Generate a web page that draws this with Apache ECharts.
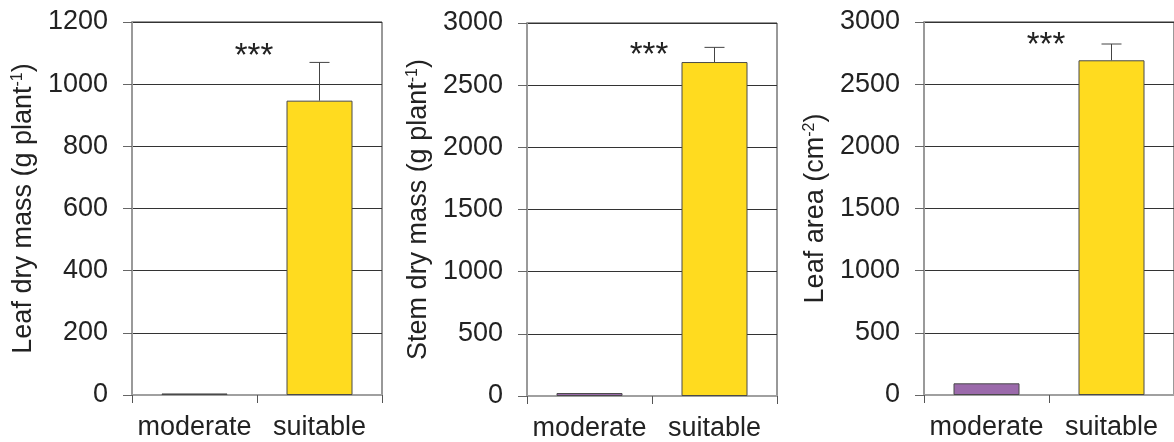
<!DOCTYPE html>
<html>
<head>
<meta charset="utf-8">
<script src="https://cdn.jsdelivr.net/npm/echarts@6/dist/echarts.min.js"></script>
<style>html,body{margin:0;padding:0;background:#fff;}#c{width:1174px;height:442px;}</style>
</head>
<body>
<div id="c"></div>
<script>
// ---- data ----
const categories = ['moderate', 'suitable'];
const leafMass = [5, 947];
const leafMassErr = [0, 123];
const stemMass = [24, 2686];
const stemMassErr = [0, 118];
const leafArea = [94, 2692];
const leafAreaErr = [0, 131];
const yMax = [1200, 3000, 3000];
const yInterval = [200, 500, 500];
const yNames = [
  ['Leaf dry mass (g plant', '-1', ')'],
  ['Stem dry mass (g plant', '-1', ')'],
  ['Leaf area (cm', '-2', ')']
];
const signif = ['***', '***', '***'];

const panels = [
  { values: leafMass, errs: leafMassErr },
  { values: stemMass, errs: stemMassErr },
  { values: leafArea, errs: leafAreaErr }
];

// ---- layout ----
const FONT = 'Liberation Sans, Arial, Helvetica, sans-serif';
const grids = [
  { left: 132, top: 22, width: 250, height: 373 },
  { left: 527, top: 23, width: 250, height: 373 },
  { left: 924, top: 22, width: 250, height: 373 }
];
const starCenterY = [57, 56, 46];
const barColors = ['#9b6aab', '#ffdb1f'];

const option = {
  animation: false,
  backgroundColor: '#fff',
  grid: grids.map(g => Object.assign({ show: true, borderColor: '#333', borderWidth: 1, backgroundColor: 'transparent' }, g)),
  xAxis: grids.map((g, i) => ({
    type: 'category',
    gridIndex: i,
    data: categories,
    boundaryGap: true,
    axisLine: { show: true, lineStyle: { color: '#a0a0a0', width: 2 } },
    axisTick: { show: true, length: 8, lineStyle: { color: '#555', width: 1 } },
    axisLabel: { fontSize: 27, color: '#222', fontFamily: FONT, margin: 19, interval: 0, hideOverlap: false }
  })),
  yAxis: grids.map((g, i) => ({
    type: 'value',
    gridIndex: i,
    min: 0,
    max: yMax[i],
    interval: yInterval[i],
    name: '{n|' + yNames[i][0] + '}{s|' + yNames[i][1] + '}{n|' + yNames[i][2] + '}',
    nameLocation: 'middle',
    nameGap: 95,
    nameRotate: 90,
    nameTextStyle: {
      color: '#222', fontFamily: FONT,
      rich: {
        n: { fontSize: 27, color: '#222', fontFamily: FONT },
        s: { fontSize: 16, color: '#222', fontFamily: FONT, verticalAlign: 'top' }
      }
    },
    axisLine: { show: true, lineStyle: { color: '#9a9a9a', width: 2 } },
    axisTick: { show: true, length: 9, lineStyle: { color: '#666', width: 1 } },
    axisLabel: { fontSize: 27, color: '#222', fontFamily: FONT, margin: 24, formatter: v => String(v) },
    splitLine: { show: true, lineStyle: { color: '#333', width: 1 } }
  })),
  graphic: grids.map((g, i) => ({
    type: 'text',
    x: g.left + 122,
    y: starCenterY[i],
    style: { text: signif[i], fontSize: 33, fill: '#222', fontFamily: FONT, align: 'center', verticalAlign: 'middle' }
  })),
  series: []
};

panels.forEach((p, i) => {
  option.series.push({
    type: 'bar',
    xAxisIndex: i,
    yAxisIndex: i,
    barWidth: 66,
    data: p.values.map((v, k) => ({
      value: v,
      itemStyle: { color: barColors[k], borderColor: '#4a4a4a', borderWidth: 1 }
    })),
    z: 2
  });
  option.series.push({
    type: 'custom',
    xAxisIndex: i,
    yAxisIndex: i,
    z: 3,
    data: p.values.map((v, k) => [k, v, p.errs[k]]),
    renderItem: function (params, api) {
      const k = api.value(0), v = api.value(1), e = api.value(2);
      if (!e) return null;
      const base = api.coord([k, v]);
      const top = api.coord([k, v + e]);
      const half = 10;
      return {
        type: 'group',
        children: [
          { type: 'line', shape: { x1: base[0], y1: base[1], x2: top[0], y2: top[1] }, style: { stroke: '#444', lineWidth: 1 } },
          { type: 'line', shape: { x1: top[0] - half, y1: top[1], x2: top[0] + half, y2: top[1] }, style: { stroke: '#444', lineWidth: 1 } }
        ]
      };
    }
  });
});

const chart = echarts.init(document.getElementById('c'), null, { renderer: 'canvas' });
chart.setOption(option);
</script>
</body>
</html>
